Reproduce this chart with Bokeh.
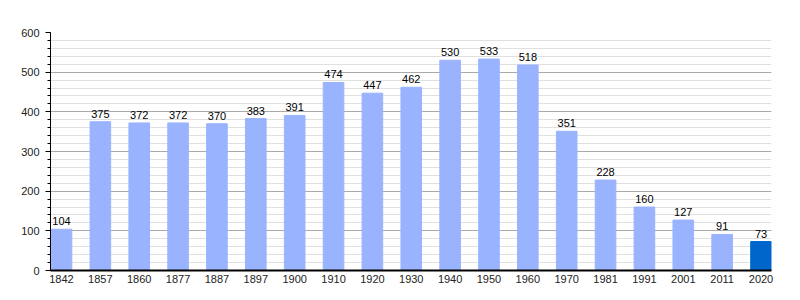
from bokeh.plotting import figure
from bokeh.models import ColumnDataSource, SingleIntervalTicker, FixedTicker, Range1d
from bokeh.core.properties import value
from bokeh.embed import file_html
from bokeh.resources import INLINE

years = ["1842", "1857", "1860", "1877", "1887", "1897", "1900", "1910", "1920", "1930",
         "1940", "1950", "1960", "1970", "1981", "1991", "2001", "2011", "2020"]
population = [104, 375, 372, 372, 370, 383, 391, 474, 447, 462,
              530, 533, 518, 351, 228, 160, 127, 91, 73]
colors = ["#99b3ff"] * (len(years) - 1) + ["#0066cc"]

xs = list(range(len(years)))
src = ColumnDataSource(dict(x=xs, y=population, c=colors, t=[str(v) for v in population]))

p = figure(width=800, height=300, output_backend="svg", toolbar_location=None,
           x_range=Range1d(-0.283, len(years) - 1 + 0.27), y_range=Range1d(0, 600),
           min_border_left=50, min_border_right=29, min_border_top=32, min_border_bottom=30)
p.outline_line_color = None
p.background_fill_color = "white"

p.vbar(x="x", top="y", width=0.53, color="c", source=src)
p.text(x="x", y="y", text="t", source=src, text_align="center", text_baseline="bottom",
       y_offset=-4, text_font=value("Liberation Sans"), text_font_size="11px", text_color="#000000")

p.xgrid.grid_line_color = None
p.ygrid.grid_line_color = "#aaaaaa"
p.ygrid.minor_grid_line_color = "#e0e0e0"

p.yaxis.ticker = SingleIntervalTicker(interval=100, num_minor_ticks=5)
p.yaxis.major_tick_out = 5
p.yaxis.major_tick_in = 0
p.yaxis.minor_tick_out = 3
p.yaxis.minor_tick_in = 0
p.yaxis.major_label_standoff = 6
p.yaxis.axis_line_color = "black"
p.yaxis.major_tick_line_color = "black"
p.yaxis.minor_tick_line_color = "black"

p.xaxis.ticker = FixedTicker(ticks=xs)
p.xaxis.major_label_overrides = {i: y for i, y in enumerate(years)}
p.xaxis.major_tick_out = 0
p.xaxis.major_tick_in = 0
p.xaxis.minor_tick_line_color = None
p.xaxis.axis_line_color = "black"
p.xaxis.axis_line_width = 2
p.xaxis.major_label_standoff = 4

for ax in (p.xaxis, p.yaxis):
    ax.major_label_text_font = "Liberation Sans"
    ax.major_label_text_font_size = "11px"
    ax.major_label_text_color = "#222222"

open("out.html", "w").write(file_html(p, INLINE))
